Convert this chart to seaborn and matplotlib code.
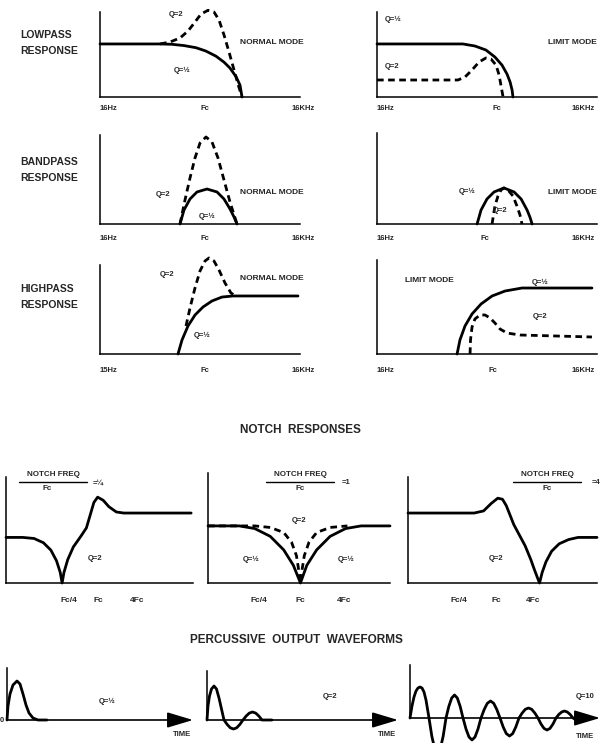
import matplotlib
matplotlib.use("Agg")
import matplotlib.pyplot as plt
from matplotlib.lines import Line2D
import seaborn as sns

W, H = 603, 743

# ---------------- data (x = position along the axis, y = level) -------------
# lowpass, normal mode
lp_norm_x_half = [0, .30, .36, .42, .48, .53, .58, .62, .65, .68, .70, .71]
lp_norm_y_half = [.624, .624, .62, .605, .58, .54, .48, .41, .34, .24, .14, 0]
lp_norm_x_q2 = [.30, .35, .40, .44, .475, .505, .54, .57, .595, .62, .645, .67, .69, .71]
lp_norm_y_q2 = [.624, .647, .694, .776, .882, .976, 1.02, 1.0, .906, .73, .53, .32, .15, 0]
# lowpass, limit mode
lp_lim_x_half = [0, .39, .445, .495, .536, .568, .591, .605, .614, .618]
lp_lim_y_half = [.624, .624, .60, .553, .47, .376, .27, .176, .082, 0]
lp_lim_x_q2 = [0, .368, .40, .432, .464, .495, .518, .541, .555, .564, .573]
lp_lim_y_q2 = [.2, .2, .235, .318, .412, .459, .447, .376, .259, .129, 0]
# bandpass, normal mode
bp_norm_x_q2 = [.40, .425, .45, .475, .50, .53, .56, .59, .62, .65, .685]
bp_norm_y_q2 = [0, .27, .517, .742, .91, .978, .921, .742, .494, .247, 0]
bp_norm_x_half = [.40, .42, .45, .485, .535, .585, .62, .65, .67, .685]
bp_norm_y_half = [0, .157, .281, .36, .393, .36, .281, .169, .079, 0]
# bandpass, limit mode
bp_lim_x_half = [.455, .473, .50, .532, .577, .623, .655, .682, .695, .705]
bp_lim_y_half = [0, .154, .275, .352, .396, .352, .275, .154, .077, 0]
bp_lim_x_q2 = [.523, .536, .55, .564, .577, .595, .618, .636, .65, .659]
bp_lim_y_q2 = [0, .198, .308, .374, .396, .374, .308, .198, .099, 0]
# highpass, normal mode
hp_norm_x_half = [.39, .41, .44, .475, .515, .56, .61, .665, .99]
hp_norm_y_half = [0, .157, .315, .438, .528, .596, .64, .652, .652]
hp_norm_x_q2 = [.43, .45, .475, .50, .525, .545, .57, .595, .625, .655, .68]
hp_norm_y_q2 = [.315, .517, .742, .933, 1.045, 1.079, 1.045, .944, .798, .685, .652]
# highpass, limit mode
hp_lim_x_half = [.364, .377, .40, .432, .473, .523, .582, .659, .977]
hp_lim_y_half = [0, .149, .298, .426, .532, .617, .67, .702, .702]
hp_lim_x_q2 = [.423, .425, .432, .445, .468, .491, .514, .536, .559, .591, .65, .977]
hp_lim_y_q2 = [0, .149, .287, .372, .415, .415, .383, .33, .266, .223, .202, .181]

# notch responses
n1_x = [0, .09, .15, .20, .24, .27, .29, .30, .31, .33, .36, .40, .43, .45, .47, .49, .52, .55, .59, .63, .99]
n1_y = [.43, .43, .42, .38, .31, .21, .10, 0, .10, .22, .34, .44, .52, .64, .76, .81, .78, .72, .67, .66, .66]
n2_x_half = [0, .172, .257, .342, .416, .469, .508, .543, .597, .671, .756, .841, 1]
n2_y_half = [.519, .519, .495, .424, .301, .161, 0, .161, .301, .424, .495, .519, .519]
n2_x_q2 = [0, .257, .342, .416, .459, .486, .501, .508, .514, .529, .555, .597, .671, .766]
n2_y_q2 = [.519, .519, .505, .459, .371, .248, .09, 0, .09, .248, .371, .459, .505, .519]
n3_x = [0, .35, .40, .44, .475, .50, .52, .54, .56, .59, .62, .65, .67, .685, .696, .71, .73, .76, .80, .85, .90, 1.0]
n3_y = [.66, .66, .68, .75, .80, .79, .73, .64, .55, .45, .35, .22, .12, .05, 0, .10, .20, .30, .37, .41, .43, .43]

# percussive waveforms (time, amplitude)
perc1_t = [0, 1, 3, 6, 10, 13, 16, 19, 22, 26, 31, 40]
perc1_a = [0, 14, 26, 35, 39, 36, 26, 15, 7, 2, 0, 0]
perc2_t = [0, 1, 2.5, 4.5, 7, 9.5, 12, 14.5, 17, 20.2, 23.3, 26.5, 29.7, 32.8, 36,
           39.2, 42.3, 45.5, 48.7, 51.8, 55, 65]
perc2_a = [0, 14, 24, 31, 34, 31, 22, 11, 0, -4.5, -7.8, -9, -7.8, -4.5, 0,
           4, 6.9, 8, 6.9, 4, 0, 0]
perc3_t = [0, 2, 4, 6, 8, 10, 12, 14, 16, 18, 19,
           21.8, 24.7, 27.5, 30.3, 33.2, 36,
           38.8, 41.7, 44.5, 47.3, 50.2, 53,
           56, 59, 62, 65, 68, 71,
           74.2, 77.3, 80.5, 83.7, 86.8, 90,
           93.2, 96.3, 99.5, 102.7, 105.8, 109,
           112.2, 115.3, 118.5, 121.7, 124.8, 128,
           131, 134, 137, 140, 143, 146,
           148.8, 151.7, 154.5, 157.3, 160.2, 163,
           166, 169, 172, 175]
perc3_a = [0, 12, 21, 27, 30, 31, 30, 26, 18, 6, 0,
           -18, -31, -36, -31, -18, 0,
           11.5, 20, 23, 20, 11.5, 0,
           -11, -19, -22, -19, -11, 0,
           8.5, 14.7, 17, 14.7, 8.5, 0,
           -9, -15.6, -18, -15.6, -9, 0,
           5, 8.7, 10, 8.7, 5, 0,
           -6, -10.4, -12, -10.4, -6, 0,
           3.5, 6, 7, 6, 3.5, 0,
           -2, -3, -2, 0]

freq_labels = ["16Hz", "Fc", "16KHz"]
notch_labels = ["Fc/4", "Fc", "4Fc"]

# ---------------- drawing ----------------
sns.set_style("white")
plt.rcParams['font.family'] = ['Liberation Sans', 'DejaVu Sans']

fig = plt.figure(figsize=(W / 100, H / 100), dpi=100)


def panel(x0, x1, top, base, xmax=1.0, ymax=1.0, bottom=True):
    ax = fig.add_axes([x0 / W, 1 - base / H, (x1 - x0) / W, (base - top) / H])
    ax.set_xlim(0, xmax)
    ax.set_ylim(0, ymax)
    ax.set_xticks([])
    ax.set_yticks([])
    ax.patch.set_alpha(0)
    for s in ['top', 'right']:
        ax.spines[s].set_visible(False)
    ax.spines['bottom'].set_visible(bottom)
    for s in ['left', 'bottom']:
        ax.spines[s].set_linewidth(1.1)
        ax.spines[s].set_color('black')
    return ax


def curve(ax, x, y, dashed=False):
    sns.lineplot(x=x, y=y, ax=ax, color='black', lw=2.0, sort=False, estimator=None,
                 clip_on=False, linestyle=(0, (2.4, 1.6)) if dashed else '-',
                 solid_joinstyle='round', dash_joinstyle='round')


def ftext(x, y, s, size=5.5, ha='center'):
    fig.text(x / W, 1 - y / H, s, fontsize=size, ha=ha, va='center', fontweight='bold')


def fline(x0, x1, y):
    fig.add_artist(Line2D([x0 / W, x1 / W], [1 - y / H] * 2, lw=1.0, color='black'))


# top six panels
ax = panel(100, 300, 12, 97)
curve(ax, lp_norm_x_half, lp_norm_y_half)
curve(ax, lp_norm_x_q2, lp_norm_y_q2, dashed=True)
ax = panel(377, 597, 12, 97)
curve(ax, lp_lim_x_half, lp_lim_y_half)
curve(ax, lp_lim_x_q2, lp_lim_y_q2, dashed=True)
ax = panel(100, 300, 135, 224)
curve(ax, bp_norm_x_q2, bp_norm_y_q2, dashed=True)
curve(ax, bp_norm_x_half, bp_norm_y_half)
ax = panel(377, 597, 133, 224)
curve(ax, bp_lim_x_q2, bp_lim_y_q2, dashed=True)
curve(ax, bp_lim_x_half, bp_lim_y_half)
ax = panel(100, 300, 265, 354)
curve(ax, hp_norm_x_half, hp_norm_y_half)
curve(ax, hp_norm_x_q2, hp_norm_y_q2, dashed=True)
ax = panel(377, 597, 260, 354)
curve(ax, hp_lim_x_half, hp_lim_y_half)
curve(ax, hp_lim_x_q2, hp_lim_y_q2, dashed=True)

ftext(20, 35, "LOWPASS", 7.5, 'left')
ftext(20, 51, "RESPONSE", 7.5, 'left')
ftext(20, 162, "BANDPASS", 7.5, 'left')
ftext(20, 178, "RESPONSE", 7.5, 'left')
ftext(20, 289, "HIGHPASS", 7.5, 'left')
ftext(20, 305, "RESPONSE", 7.5, 'left')

for y in (108, 238, 370):
    ftext(100, y, freq_labels[0] if y != 370 else "15Hz", 5.5, 'left')
    ftext(205, y, freq_labels[1])
    ftext(303, y, freq_labels[2])
    ftext(377, y, freq_labels[0], 5.5, 'left')
    ftext(583, y, freq_labels[2])
ftext(497, 108, "Fc")
ftext(485, 238, "Fc")
ftext(493, 370, "Fc")

ftext(176, 15, "Q=2")
ftext(182, 70, "Q=½")
ftext(240, 43, "NORMAL MODE", 6.0, 'left')
ftext(393, 19, "Q=½")
ftext(392, 67, "Q=2")
ftext(572, 43, "LIMIT MODE", 6.0)
ftext(163, 194, "Q=2")
ftext(207, 216, "Q=½")
ftext(240, 193, "NORMAL MODE", 6.0, 'left')
ftext(467, 191, "Q=½")
ftext(500, 210, "Q=2")
ftext(572, 192, "LIMIT MODE", 6.0)
ftext(167, 275, "Q=2")
ftext(202, 335, "Q=½")
ftext(240, 278, "NORMAL MODE", 6.0, 'left')
ftext(429, 280, "LIMIT MODE", 6.0)
ftext(540, 282, "Q=½")
ftext(540, 317, "Q=2")

# notch responses
ftext(300, 430, "NOTCH  RESPONSES", 8.5)
ax = panel(6, 193, 477, 583)
curve(ax, n1_x, n1_y)
ax = panel(208, 390, 473, 583)
curve(ax, n2_x_half, n2_y_half)
curve(ax, n2_x_q2, n2_y_q2, dashed=True)
ax = panel(408, 597, 477, 583)
curve(ax, n3_x, n3_y)

for cx, val, lx in ((53, "=¼", 98), (300, "=1", 346), (547, "=4", 596)):
    ftext(cx, 474, "NOTCH FREQ", 5.8)
    fline(cx - 34, cx + 34, 482)
    ftext(cx - 6 if cx == 53 else cx, 489, "Fc", 5.8)
    ftext(lx, 483, val, 5.5)
ftext(95, 558, "Q=2")
ftext(299, 520, "Q=2")
ftext(251, 559, "Q=½")
ftext(346, 559, "Q=½")
ftext(496, 558, "Q=2")
for xs in ((69, 98, 137), (259, 300, 344), (459, 496, 533)):
    for x, lab in zip(xs, notch_labels):
        ftext(x, 600, lab, 6.0)

# percussive output waveforms
ftext(296, 640, "PERCUSSIVE  OUTPUT  WAVEFORMS", 8.5)
for x0, x1, top, base, t, a in ((7, 193, 668, 720, perc1_t, perc1_a),
                                (207, 398, 671, 720, perc2_t, perc2_a),
                                (410, 600, 665, 718, perc3_t, perc3_a)):
    ax = panel(x0, x1, top, base, xmax=x1 - x0, ymax=base - top, bottom=False)
    curve(ax, t, a)
    ax.annotate('', xy=(x1 - x0, 0), xytext=(0, 0),
                arrowprops=dict(arrowstyle='-|>,head_length=1.0,head_width=0.3',
                                mutation_scale=16, lw=1.2, color='black',
                                shrinkA=0, shrinkB=0), annotation_clip=False)
ftext(2, 720, "0", 5.5)
ftext(107, 701, "Q=½")
ftext(182, 735, "TIME")
ftext(330, 697, "Q=2")
ftext(387, 735, "TIME")
ftext(585, 697, "Q=10")
ftext(585, 736, "TIME")

fig.savefig("out.png", dpi=100)
